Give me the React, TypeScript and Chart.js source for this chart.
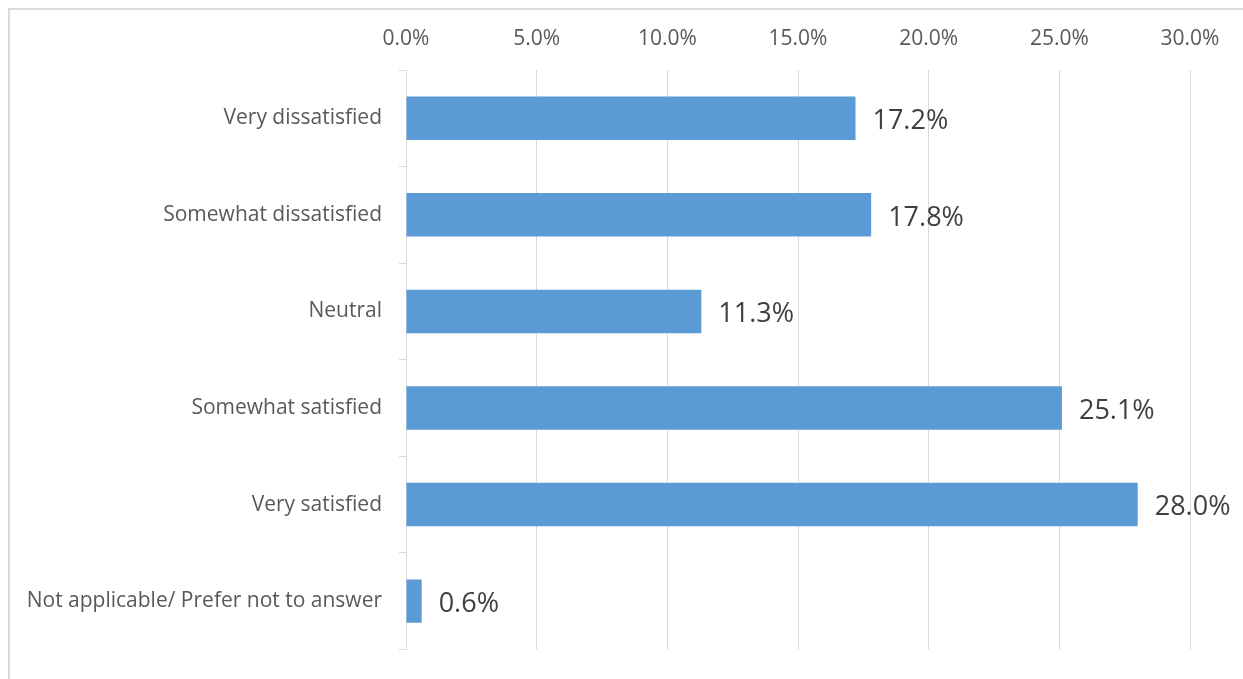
import React, { useEffect, useRef } from "react";
import { Chart, registerables } from "chart.js";

Chart.register(...registerables);

const categories: string[] = [
  "Very dissatisfied",
  "Somewhat dissatisfied",
  "Neutral",
  "Somewhat satisfied",
  "Very satisfied",
  "Not applicable/ Prefer not to answer",
];
const values: number[] = [17.2, 17.8, 11.3, 25.1, 28.0, 0.6];
const xTicks: number[] = [0, 5, 10, 15, 20, 25, 30];

const FONT = "'Open Sans', 'Noto Sans', sans-serif";

const dataLabels = {
  id: "dataLabels",
  afterDatasetsDraw(chart: any) {
    const ctx = chart.ctx;
    const meta = chart.getDatasetMeta(0);
    ctx.save();
    ctx.font = `27px ${FONT}`;
    ctx.fillStyle = "#404040";
    ctx.textAlign = "left";
    ctx.textBaseline = "middle";
    meta.data.forEach((bar: any, i: number) => {
      ctx.fillText(values[i].toFixed(1) + "%", bar.x + 17, bar.y + 3);
    });
    ctx.restore();
  },
};

export default function App() {
  const ref = useRef<HTMLCanvasElement | null>(null);
  useEffect(() => {
    if (!ref.current) return;
    const chart = new Chart(ref.current, {
      type: "bar",
      data: {
        labels: categories,
        datasets: [
          {
            data: values,
            backgroundColor: "#5b9bd5",
            borderWidth: 0,
            categoryPercentage: 1,
            barPercentage: 0.45,
          },
        ],
      },
      plugins: [dataLabels],
      options: {
        indexAxis: "y",
        animation: false,
        responsive: true,
        maintainAspectRatio: false,
        layout: { padding: { left: 0, top: 0, right: 53, bottom: 24 } },
        plugins: { legend: { display: false }, tooltip: { enabled: false } },
        scales: {
          x: {
            position: "top",
            min: 0,
            max: 30,
            afterBuildTicks(scale: any) {
              scale.ticks = xTicks.map((v) => ({ value: v }));
            },
            afterFit(scale: any) {
              scale.height = 70;
            },
            grid: { color: "#d9d9d9", lineWidth: 1, drawTicks: false },
            border: { display: false },
            ticks: {
              padding: 18,
              color: "#595959",
              font: { family: FONT, size: 21 },
              callback: (v: any) => Number(v).toFixed(1) + "%",
            },
          },
          y: {
            afterFit(scale: any) {
              scale.width = 406;
            },
            grid: {
              offset: true,
              drawOnChartArea: false,
              color: "#d9d9d9",
              tickLength: 7,
            },
            border: { display: true, color: "#d9d9d9", width: 1 },
            ticks: {
              padding: 17,
              color: "#595959",
              font: { family: FONT, size: 21 },
            },
          },
        },
      },
    });
    return () => chart.destroy();
  }, []);
  return (
    <div>
      <div
        style={{
          position: "fixed",
          left: 8,
          top: 8,
          width: 1235,
          height: 671,
          boxSizing: "border-box",
          borderLeft: "2px solid #d9d9d9",
          borderTop: "2px solid #d9d9d9",
        }}
      />
      <div style={{ position: "fixed", left: 0, top: 0, width: 1243, height: 679 }}>
        <canvas ref={ref} />
      </div>
    </div>
  );
}
